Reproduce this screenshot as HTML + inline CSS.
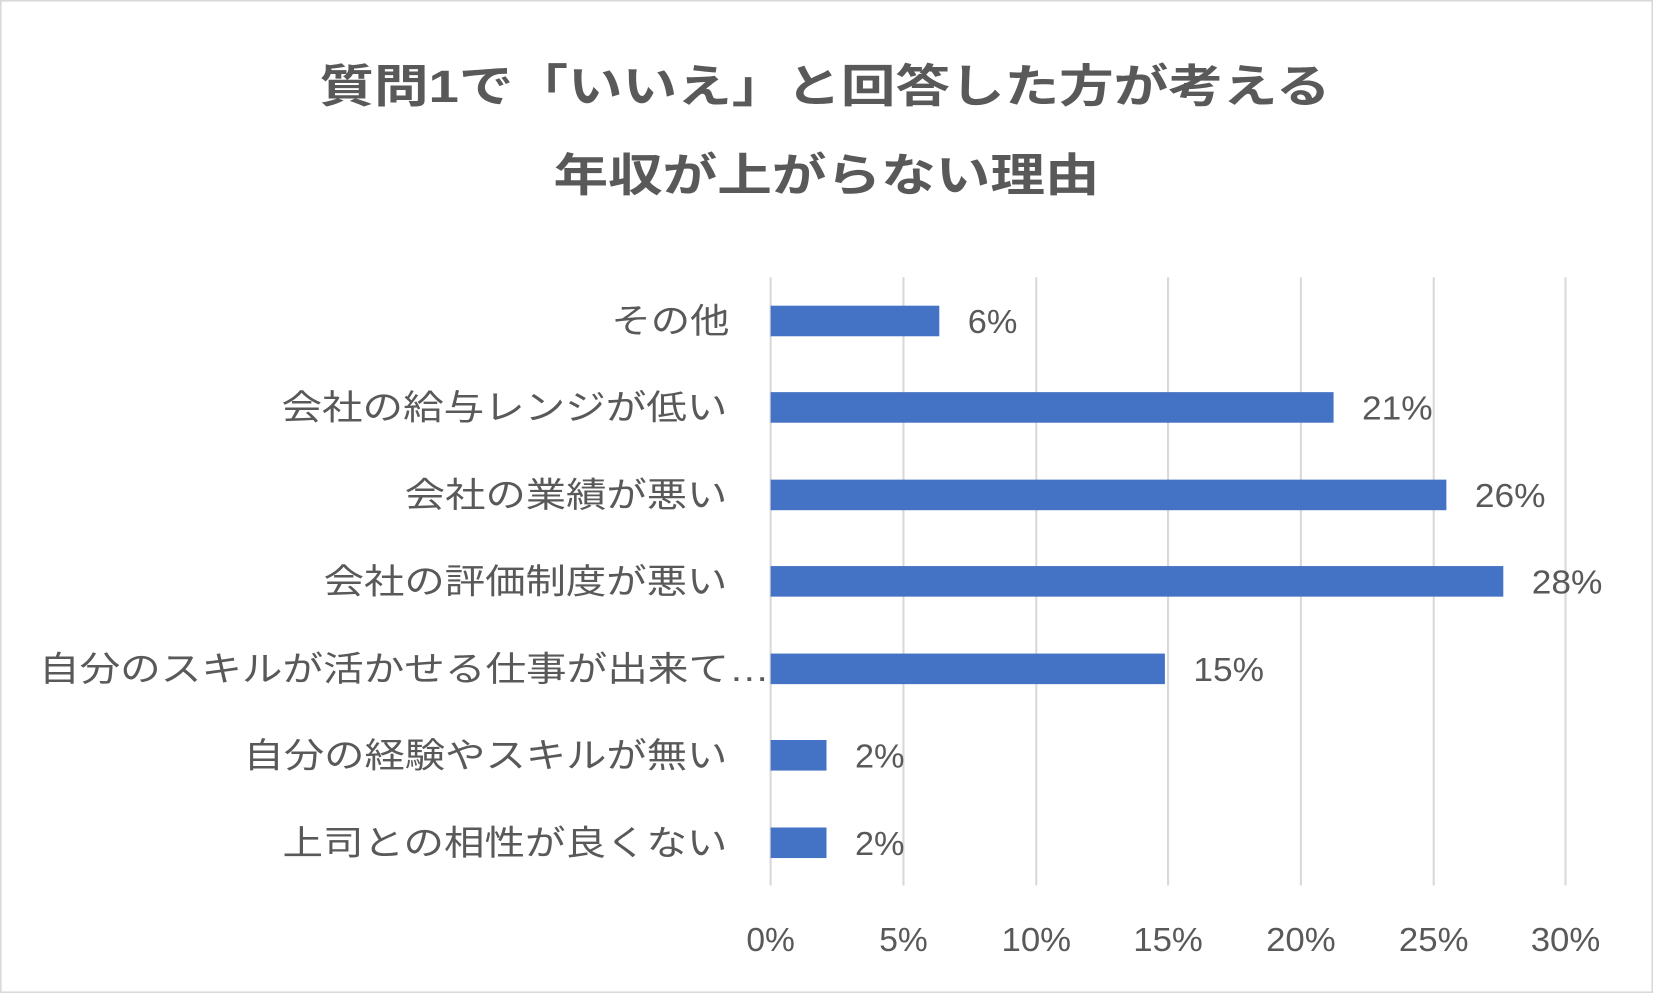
<!DOCTYPE html>
<html><head><meta charset="utf-8"><style>
html,body{margin:0;padding:0;background:#fff;}
svg{display:block;}
text{font-family:"Liberation Sans","Noto Sans CJK JP",sans-serif;fill:#595959;}
</style></head><body>
<svg width="1653" height="993" viewBox="0 0 1568 942" preserveAspectRatio="none">
<rect x="0.5" y="0.5" width="1567" height="941" fill="#fff" stroke="#d9d9d9" stroke-width="2"/>
<text x="303" y="97" font-size="43" font-weight="bold" textLength="959" lengthAdjust="spacingAndGlyphs">質問1で「いいえ」と回答した方が考える</text>
<text x="525" y="181" font-size="43" font-weight="bold" textLength="518" lengthAdjust="spacingAndGlyphs">年収が上がらない理由</text>
<g stroke="#d9d9d9" stroke-width="2">
<line x1="731" y1="263" x2="731" y2="840"/>
<line x1="857" y1="263" x2="857" y2="840"/>
<line x1="983" y1="263" x2="983" y2="840"/>
<line x1="1108" y1="263" x2="1108" y2="840"/>
<line x1="1234" y1="263" x2="1234" y2="840"/>
<line x1="1360" y1="263" x2="1360" y2="840"/>
<line x1="1485" y1="263" x2="1485" y2="840"/>
</g>
<g fill="#4472c4">
<rect x="731" y="290" width="160" height="29"/>
<rect x="731" y="372" width="534" height="29"/>
<rect x="731" y="455" width="641" height="29"/>
<rect x="731" y="537" width="695" height="29"/>
<rect x="731" y="620" width="374" height="29"/>
<rect x="731" y="702" width="53" height="29"/>
<rect x="731" y="785" width="53" height="29"/>
</g>
<g font-size="32">
<text x="918" y="316" textLength="47" lengthAdjust="spacingAndGlyphs">6%</text>
<text x="1292" y="398" textLength="67" lengthAdjust="spacingAndGlyphs">21%</text>
<text x="1399" y="481" textLength="67" lengthAdjust="spacingAndGlyphs">26%</text>
<text x="1453" y="563" textLength="67" lengthAdjust="spacingAndGlyphs">28%</text>
<text x="1132" y="646" textLength="67" lengthAdjust="spacingAndGlyphs">15%</text>
<text x="811" y="728" textLength="47" lengthAdjust="spacingAndGlyphs">2%</text>
<text x="811" y="811" textLength="47" lengthAdjust="spacingAndGlyphs">2%</text>
</g>
<g font-size="33">
<text x="580" y="316" textLength="112" lengthAdjust="spacingAndGlyphs">その他</text>
<text x="267" y="398" textLength="423" lengthAdjust="spacingAndGlyphs">会社の給与レンジが低い</text>
<text x="384" y="481" textLength="306" lengthAdjust="spacingAndGlyphs">会社の業績が悪い</text>
<text x="307" y="563" textLength="383" lengthAdjust="spacingAndGlyphs">会社の評価制度が悪い</text>
<text x="37" y="646" textLength="693" lengthAdjust="spacingAndGlyphs">自分のスキルが活かせる仕事が出来て…</text>
<text x="231" y="728" textLength="459" lengthAdjust="spacingAndGlyphs">自分の経験やスキルが無い</text>
<text x="268" y="811" textLength="422" lengthAdjust="spacingAndGlyphs">上司との相性が良くない</text>
</g>
<g font-size="32">
<text x="708" y="902" textLength="46" lengthAdjust="spacingAndGlyphs">0%</text>
<text x="834" y="902" textLength="46" lengthAdjust="spacingAndGlyphs">5%</text>
<text x="950" y="902" textLength="66" lengthAdjust="spacingAndGlyphs">10%</text>
<text x="1075" y="902" textLength="66" lengthAdjust="spacingAndGlyphs">15%</text>
<text x="1201" y="902" textLength="66" lengthAdjust="spacingAndGlyphs">20%</text>
<text x="1327" y="902" textLength="66" lengthAdjust="spacingAndGlyphs">25%</text>
<text x="1452" y="902" textLength="66" lengthAdjust="spacingAndGlyphs">30%</text>
</g>
</svg>
</body></html>
